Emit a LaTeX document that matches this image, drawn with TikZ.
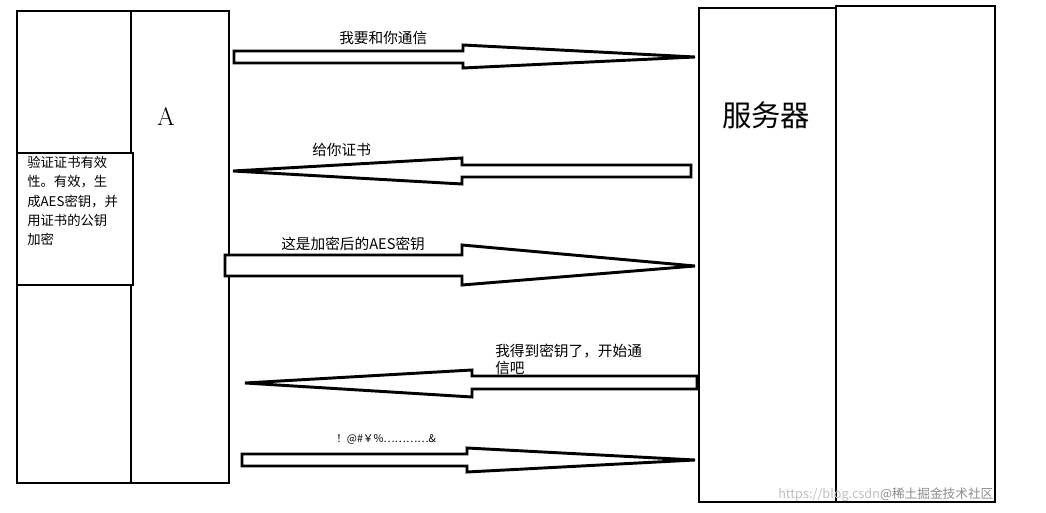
\documentclass[tikz,border=0pt]{standalone}
\usepackage{fontspec}
\newfontfamily\cjk{Noto Sans CJK SC}
\begin{document}
\begin{tikzpicture}[x=0.75pt,y=-0.75pt,
  box/.style={draw,line width=2pt},
  arr/.style={draw,line width=2.2pt,line join=miter,fill=white},
  lbl/.style={font=\cjk\fontsize{11}{13}\selectfont,inner sep=0pt,anchor=west}]
\useasboundingbox (0,0) rectangle (1046,513);
\draw[box] (17,11) rectangle (131,483);
\draw[box] (131,11) rectangle (229,483);
\draw[box,fill=white] (17,153) rectangle (133,285);
\node[lbl,anchor=north west,align=left,font=\cjk\fontsize{10}{14.5}\selectfont] (note) at (27,156) {验证证书有效\\性。有效，生\\成AES密钥，并\\用证书的公钥\\加密};
\node[font=\fontsize{19}{22}\selectfont] (A) at (166,117) {A};
\draw[box] (699,8) rectangle (836,502);
\draw[box] (836,6) rectangle (995,502);
\node[font=\cjk\fontsize{22}{26}\selectfont] (srv) at (766,115) {服务器};
% arrows
\draw[arr] (234,51) -- (463,51) -- (463,45) -- (695,57) -- (463,68) -- (463,63) -- (234,63) -- cycle;
\draw[arr] (691,165) -- (462,165) -- (462,158) -- (233,171) -- (462,184) -- (462,177) -- (691,177) -- cycle;
\draw[arr] (225,255) -- (462,255) -- (462,245) -- (695,266) -- (462,285) -- (462,276) -- (225,276) -- cycle;
\draw[arr] (697,376) -- (472,376) -- (472,370) -- (245,383) -- (472,397) -- (472,389) -- (697,389) -- cycle;
\draw[arr] (242,454) -- (467,454) -- (467,448) -- (695,460) -- (467,472) -- (467,466) -- (242,466) -- cycle;
\node[lbl] (l1) at (339,38) {我要和你通信};
\node[lbl] (l2) at (312,150) {给你证书};
\node[lbl] (l3) at (281,244) {这是加密后的AES密钥};
\node[lbl,anchor=north west,align=left,font=\cjk\fontsize{11}{12.5}\selectfont] (l4) at (495,344) {我得到密钥了，开始通\\信吧};
\node[lbl,font=\cjk\fontsize{8}{10}\selectfont] (l5) at (336,439) {！@\#￥\%…………\&};
\node[lbl,text=black!25,font=\cjk\fontsize{9.5}{12}\selectfont] (wm) at (778,495) {https://blog.csdn\textcolor{black!45}{@稀土掘金技术社区}};
\end{tikzpicture}
\end{document}
